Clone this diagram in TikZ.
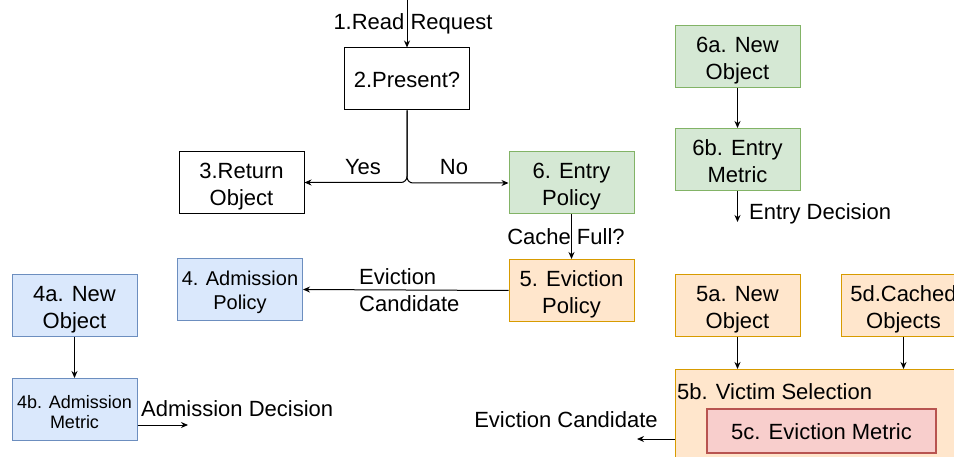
\documentclass[tikz,border=0pt]{standalone}
\usepackage{fontspec}
\setmainfont{Liberation Sans}
\usetikzlibrary{arrows.meta,calc}
\definecolor{grnF}{HTML}{D5E8D4}\definecolor{grnS}{HTML}{82B366}
\definecolor{orgF}{HTML}{FFE6CC}\definecolor{orgS}{HTML}{D79B00}
\definecolor{bluF}{HTML}{DAE8FC}\definecolor{bluS}{HTML}{6C8EBF}
\definecolor{redF}{HTML}{F8CECC}\definecolor{redS}{HTML}{B85450}
\newcommand\frameht{57.8pt}
\tikzset{
  % invisible rule fixing the height above / depth below the last baseline
  textframe/.store in=\frameht,
  base/.style={draw, line width=1pt, align=center, inner sep=2pt,
    font=\fontsize{22}{27}\selectfont, minimum width=125pt, minimum height=62pt,
    textframe=57.8pt, execute at end node={\rule[-6pt]{0pt}{\frameht}}},
  single/.style={textframe=29.8pt},
  plain/.style={base, draw=black, fill=white},
  green/.style={base, draw=grnS, fill=grnF},
  orange/.style={base, draw=orgS, fill=orgF},
  blue/.style={base, draw=bluS, fill=bluF},
  txt/.style={font=\fontsize{22}{27}\selectfont, inner sep=0pt, align=center, yshift=-2pt},
  arr/.style={draw=black, line width=1pt, -{Stealth[length=7pt,width=6pt]}},
}
\begin{document}
\begin{tikzpicture}[x=1pt, y=-1pt]
\useasboundingbox (0,0) rectangle (954,457);
\clip (0,0) rectangle (954,457);

% main decision flow
\node[plain, single] (present) at (407,79) {2.Present?};
\node[plain] (ret) at (241.5,182.5) {3.Return\\Object};
\node[green] (entry) at (571.5,183) {6. Entry\\Policy};
\node[orange] (evict) at (571.5,290.5) {5. Eviction\\Policy};
\node[blue, font=\fontsize{20}{24}\selectfont, textframe=51.4pt] (adm) at (240,289.5) {4. Admission\\Policy};
\coordinate (req) at (407,0);

\draw[arr] (req) -- (present.north);
\node[txt] (reqlbl) at (413,22) {1.Read Request};
\draw[arr, rounded corners=6pt] (present.south) |- (ret.east);
\draw[arr, rounded corners=6pt] (present.south) |- (entry.west);
\node[txt] (yes) at (363,165) {Yes};
\node[txt] (no) at (454,165) {No};
\draw[arr] (entry.south) -- (evict.north);
\node[txt] (full) at (566,235) {Cache Full?};
\draw[arr] (evict.west) -- (adm.east);
\node[txt, anchor=west, align=left] (cand) at (359,288) {Eviction\\Candidate};

% admission policy detail
\node[blue] (a4) at (74.5,305.5) {4a. New\\Object};
\node[blue, font=\fontsize{18}{20}\selectfont, textframe=50pt] (b4) at (74.5,409.5) {4b. Admission\\Metric};
\draw[arr] (a4.south) -- (b4.north);
\coordinate (admout) at (188,425);
\draw[arr] (b4.east |- admout) -- (admout);
\node[txt, anchor=west] (admdec) at (141,407) {Admission Decision};

% entry policy detail
\node[green] (e6a) at (737.5,57) {6a. New\\Object};
\node[green] (e6b) at (737.5,159.5) {6b. Entry\\Metric};
\draw[arr] (e6a.south) -- (e6b.north);
\coordinate (entout) at (737.5,222);
\draw[arr] (e6b.south) -- (entout);
\node[txt, anchor=west] (entdec) at (749,212) {Entry Decision};

% eviction policy detail
\node[orange] (n5a) at (737.5,305.5) {5a. New\\Object};
\node[orange] (c5d) at (903.5,305.5) {5d.Cached\\Objects};
\node[orange, anchor=north west, minimum width=290pt, minimum height=100pt] (victim) at (675,369) {};
\node[txt, anchor=west] (victimlbl) at (677,390) {5b. Victim Selection};
\node[base, single, draw=redS, fill=redF, line width=2pt, minimum width=229pt, minimum height=44pt] (metric) at (821.5,431) {5c. Eviction Metric};
\draw[arr] (n5a.south) -- (n5a.south |- victim.north);
\draw[arr] (c5d.south) -- (c5d.south |- victim.north);
\coordinate (evout) at (637,439);
\draw[arr] (victim.west |- evout) -- (evout);
\node[txt] (evcand) at (566,418) {Eviction Candidate};
\end{tikzpicture}
\end{document}
